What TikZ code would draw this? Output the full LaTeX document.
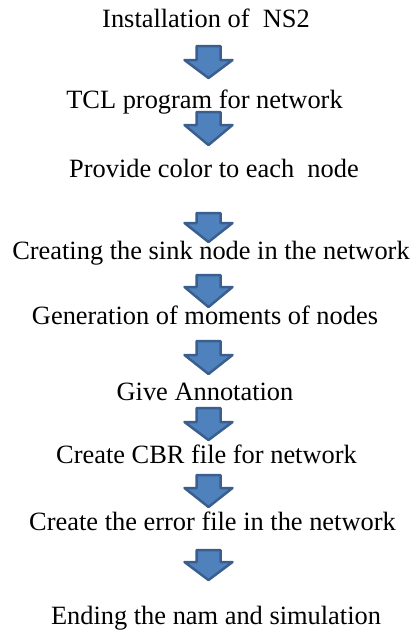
\documentclass[tikz,border=0pt]{standalone}
\usepackage{fontspec}
\setmainfont{Liberation Serif}
\definecolor{arrowfill}{HTML}{4F81BD}
\definecolor{arrowline}{HTML}{3A5F8E}
\newcommand\myblockarrow[4]{% name, top, head start, tip
  \path[barrow] (196.5,#2) -- (220.5,#2) -- (220.5,#3) -- (232.5,#3)
     -- (208.5,#4) coordinate (#1) -- (184.5,#3) -- (196.5,#3) -- cycle;}
\begin{document}
\begin{tikzpicture}[x=1pt,y=-1pt,
  lbl/.style={anchor=base, inner sep=0pt, font=\fontsize{26.4}{30}\selectfont},
  barrow/.style={fill=arrowfill, draw=arrowline, line width=2.5pt, line join=round}]
\useasboundingbox (0,0) rectangle (415,630);
\node[lbl] (t1) at (206,27) {Installation of\ \ NS2};
\node[lbl] (t2) at (204.5,108) {TCL program for network};
\node[lbl] (t3) at (214,177) {Provide color to each\ \ node};
\node[lbl] (t4) at (211,259) {Creating the sink node in the network};
\node[lbl] (t5) at (205,324) {Generation of moments of nodes};
\node[lbl] (t6) at (205,400) {Give Annotation};
\node[lbl] (t7) at (206.5,463) {Create CBR file for network};
\node[lbl] (t8) at (212.5,530) {Create the error file in the network};
\node[lbl] (t9) at (216,624) {Ending the nam and simulation};
\myblockarrow{a1}{46}{60}{78}
\myblockarrow{a2}{112}{125}{145}
\myblockarrow{a3}{213}{223}{242}
\myblockarrow{a4}{275}{287}{307}
\myblockarrow{a5}{341}{355}{374}
\myblockarrow{a6}{408}{422}{440}
\myblockarrow{a7}{475}{488}{507}
\myblockarrow{a8}{550}{562}{580}
\end{tikzpicture}
\end{document}
